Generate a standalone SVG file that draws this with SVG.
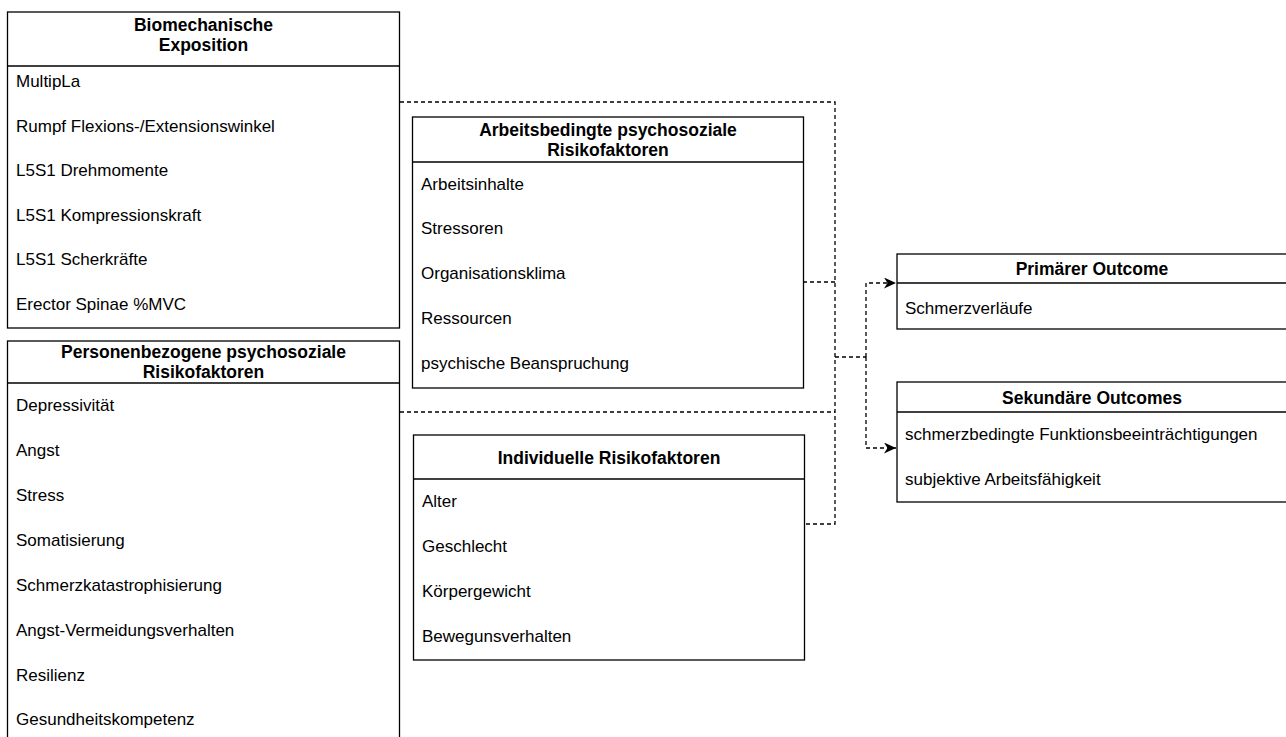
<svg xmlns="http://www.w3.org/2000/svg" width="1286" height="737" viewBox="0 0 1286 737">
  <style>
    .box { fill: #ffffff; stroke: #000000; stroke-width: 1.3; }
    .sep { stroke: #000000; stroke-width: 1.3; fill: none; }
    .title { font-family: "Liberation Sans", Arial, sans-serif; font-size: 17.5px; font-weight: bold; fill: #000000; text-anchor: middle; }
    .item { font-family: "Liberation Sans", Arial, sans-serif; font-size: 17px; fill: #000000; }
    .edge { fill: none; stroke: #000000; stroke-width: 1.3; stroke-dasharray: 4 3; }
  </style>
  <defs>
    <marker id="arrow" viewBox="0 0 12 11" refX="12" refY="5.5" markerWidth="12" markerHeight="11" markerUnits="userSpaceOnUse" orient="auto">
      <path d="M0,0 L12,5.5 L0,11 L3.5,5.5 Z" fill="#000000"/>
    </marker>
  </defs>

  <!-- connectors -->
  <g id="connectors">
    <path class="edge" d="M400,102 H835 V524 H805"/>
    <path class="edge" d="M803,282 H835"/>
    <path class="edge" d="M400,412 H835"/>
    <path class="edge" d="M835,357 H866"/>
    <path class="edge" d="M866,357 V283 H896" marker-end="url(#arrow)"/>
    <path class="edge" d="M866,357 V448 H896" marker-end="url(#arrow)"/>
  </g>

  <!-- Biomechanische Exposition -->
  <g id="biomechanik">
    <rect class="box" x="7.5" y="12" width="392" height="316"/>
    <line class="sep" x1="7.5" y1="66" x2="399.5" y2="66"/>
    <text class="title" x="203.5" y="31">Biomechanische</text>
    <text class="title" x="203.5" y="51">Exposition</text>
    <text class="item" x="16" y="87">MultipLa</text>
    <text class="item" x="16" y="132">Rumpf Flexions-/Extensionswinkel</text>
    <text class="item" x="16" y="176">L5S1 Drehmomente</text>
    <text class="item" x="16" y="221">L5S1 Kompressionskraft</text>
    <text class="item" x="16" y="265">L5S1 Scherkräfte</text>
    <text class="item" x="16" y="310">Erector Spinae %MVC</text>
  </g>

  <!-- Personenbezogene psychosoziale Risikofaktoren -->
  <g id="personenbezogen">
    <rect class="box" x="7.5" y="341" width="392" height="410"/>
    <line class="sep" x1="7.5" y1="383" x2="399.5" y2="383"/>
    <text class="title" x="203.5" y="358">Personenbezogene psychosoziale</text>
    <text class="title" x="203.5" y="378">Risikofaktoren</text>
    <text class="item" x="16" y="411">Depressivität</text>
    <text class="item" x="16" y="456">Angst</text>
    <text class="item" x="16" y="501">Stress</text>
    <text class="item" x="16" y="546">Somatisierung</text>
    <text class="item" x="16" y="591">Schmerzkatastrophisierung</text>
    <text class="item" x="16" y="636">Angst-Vermeidungsverhalten</text>
    <text class="item" x="16" y="681">Resilienz</text>
    <text class="item" x="16" y="725">Gesundheitskompetenz</text>
  </g>

  <!-- Arbeitsbedingte psychosoziale Risikofaktoren -->
  <g id="arbeitsbedingt">
    <rect class="box" x="412.5" y="117" width="391" height="271"/>
    <line class="sep" x1="412.5" y1="162" x2="803.5" y2="162"/>
    <text class="title" x="608" y="136">Arbeitsbedingte psychosoziale</text>
    <text class="title" x="608" y="156">Risikofaktoren</text>
    <text class="item" x="421" y="190">Arbeitsinhalte</text>
    <text class="item" x="421" y="234">Stressoren</text>
    <text class="item" x="421" y="279">Organisationsklima</text>
    <text class="item" x="421" y="324">Ressourcen</text>
    <text class="item" x="421" y="369">psychische Beanspruchung</text>
  </g>

  <!-- Individuelle Risikofaktoren -->
  <g id="individuell">
    <rect class="box" x="413.5" y="435" width="391" height="225"/>
    <line class="sep" x1="413.5" y1="479" x2="804.5" y2="479"/>
    <text class="title" x="609" y="464">Individuelle Risikofaktoren</text>
    <text class="item" x="422" y="507">Alter</text>
    <text class="item" x="422" y="552">Geschlecht</text>
    <text class="item" x="422" y="597">Körpergewicht</text>
    <text class="item" x="422" y="642">Bewegunsverhalten</text>
  </g>

  <!-- Primärer Outcome -->
  <g id="primaer">
    <rect class="box" x="897" y="254" width="395" height="75"/>
    <line class="sep" x1="897" y1="283" x2="1292" y2="283"/>
    <text class="title" x="1092" y="275">Primärer Outcome</text>
    <text class="item" x="905" y="314">Schmerzverläufe</text>
  </g>

  <!-- Sekundäre Outcomes -->
  <g id="sekundaer">
    <rect class="box" x="897" y="382" width="395" height="120"/>
    <line class="sep" x1="897" y1="412" x2="1292" y2="412"/>
    <text class="title" x="1092" y="404">Sekundäre Outcomes</text>
    <text class="item" x="905" y="440">schmerzbedingte Funktionsbeeinträchtigungen</text>
    <text class="item" x="905" y="485">subjektive Arbeitsfähigkeit</text>
  </g>
</svg>
